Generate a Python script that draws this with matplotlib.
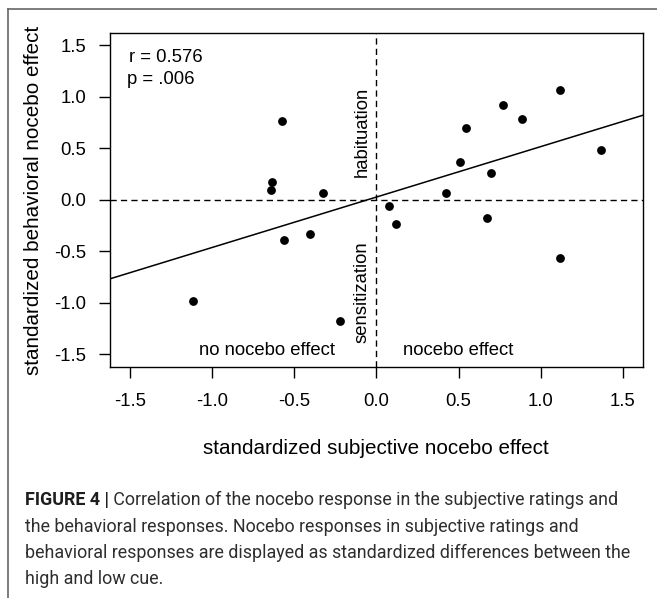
import matplotlib
matplotlib.use("Agg")
import matplotlib.pyplot as plt
from matplotlib.lines import Line2D

# ---- data ----
subjective = [-1.115, -0.574, -0.635, -0.643, -0.324, -0.564, -0.403, -0.222,
              0.077, 0.117, 0.426, 0.508, 0.548, 0.696, 0.673, 0.768, 0.885,
              1.117, 1.117, 1.367]
behavioral = [-0.978, 0.761, 0.172, 0.100, 0.071, -0.389, -0.327, -1.176,
              -0.058, -0.236, 0.065, 0.369, 0.693, 0.262, -0.175, 0.920, 0.784,
              1.066, -0.564, 0.486]
fit_slope = 0.490
fit_intercept = 0.027
ticks = [-1.5, -1.0, -0.5, 0.0, 0.5, 1.0, 1.5]
tick_labels = ["-1.5", "-1.0", "-0.5", "0.0", "0.5", "1.0", "1.5"]
stats_text = ["r = 0.576", "p = .006"]
quadrant_text = ["habituation", "sensitization", "no nocebo effect", "nocebo effect"]
xlabel = "standardized subjective nocebo effect"
ylabel = "standardized behavioral nocebo effect"
caption_bold = "FIGURE 4 |"
caption_lines = [
    " Correlation of the nocebo response in the subjective ratings and",
    "the behavioral responses. Nocebo responses in subjective ratings and",
    "behavioral responses are displayed as standardized differences between the",
    "high and low cue.",
]

W, H = 657, 598
plt.rcParams["font.family"] = ["Liberation Sans", "DejaVu Sans"]
fig = plt.figure(figsize=(W / 100, H / 100), dpi=100)
fig.patch.set_facecolor("white")

L, R, T, B = 110, 642.7, 33, 366.7
ax = fig.add_axes([L / W, 1 - B / H, (R - L) / W, (B - T) / H])
ax.set_xlim(-1.62, 1.62)
ax.set_ylim(-1.62, 1.62)

fs = 13.3
lab_fs = 14.9
ax.scatter(subjective, behavioral, s=40, color="black", zorder=3, linewidths=0)
ax.axline((0, fit_intercept), slope=fit_slope, color="black", lw=1.1)
ax.axhline(0, color="black", lw=1.0, dashes=(4.5, 3))
ax.axvline(0, color="black", lw=1.0, dashes=(4.5, 3))

ax.set_xticks(ticks)
ax.set_xticklabels(tick_labels)
ax.set_yticks(ticks)
ax.set_yticklabels(tick_labels)
ax.tick_params(axis="both", length=8, width=1.0, labelsize=fs, color="black")
ax.tick_params(axis="x", pad=11)
ax.tick_params(axis="y", pad=9)
for s in ax.spines.values():
    s.set_linewidth(1.0)

ax.text(-1.505, 1.384, stats_text[0], fontsize=fs, ha="left", va="center")
ax.text(-1.515, 1.171, stats_text[1], fontsize=fs, ha="left", va="center")
ax.text(-0.088, 0.66, quadrant_text[0], fontsize=fs, rotation=90, ha="center", va="center")
ax.text(-0.088, -0.90, quadrant_text[1], fontsize=fs, rotation=90, ha="center", va="center")
ax.text(-0.663, -1.461, quadrant_text[2], fontsize=fs, ha="center", va="center")
ax.text(0.497, -1.461, quadrant_text[3], fontsize=fs, ha="center", va="center")

fig.text((L + R) / 2 / W, 1 - 448 / H, xlabel, fontsize=lab_fs, ha="center", va="center")
fig.text(34 / W, 1 - 200 / H, ylabel, fontsize=lab_fs, rotation=90, ha="center", va="center")

# outer frame (left and top)
fig.add_artist(Line2D([8 / W, 8 / W], [0, 1 - 9 / H], transform=fig.transFigure,
                      color="#666666", lw=1.2))
fig.add_artist(Line2D([8 / W, 1], [1 - 9 / H, 1 - 9 / H], transform=fig.transFigure,
                      color="#666666", lw=1.2))

# caption, size fitted to the reference line width
cap_family = ["Roboto", "DejaVu Sans"]
renderer = fig.canvas.get_renderer()
x0 = 25
target_w = 610
probe = fig.text(0, 0, caption_lines[2], fontsize=14, family=cap_family)
pw = probe.get_window_extent(renderer).width
probe.remove()
cap_fs = 14 * target_w / pw

line_y = [500, 527, 553, 579]
cap_color = "#2e2e2e"
tb = fig.text(x0 / W, 1 - line_y[0] / H, caption_bold, fontsize=cap_fs, family=cap_family,
              weight="bold", color="#1e1e1e", ha="left", va="center")
bb = tb.get_window_extent(renderer)
fig.text(bb.x1 / W, 1 - line_y[0] / H, caption_lines[0], fontsize=cap_fs, family=cap_family,
         color=cap_color, ha="left", va="center")
for yv, line in zip(line_y[1:], caption_lines[1:]):
    fig.text(x0 / W, 1 - yv / H, line, fontsize=cap_fs, family=cap_family,
             color=cap_color, ha="left", va="center")

fig.savefig("out.png", dpi=100)
